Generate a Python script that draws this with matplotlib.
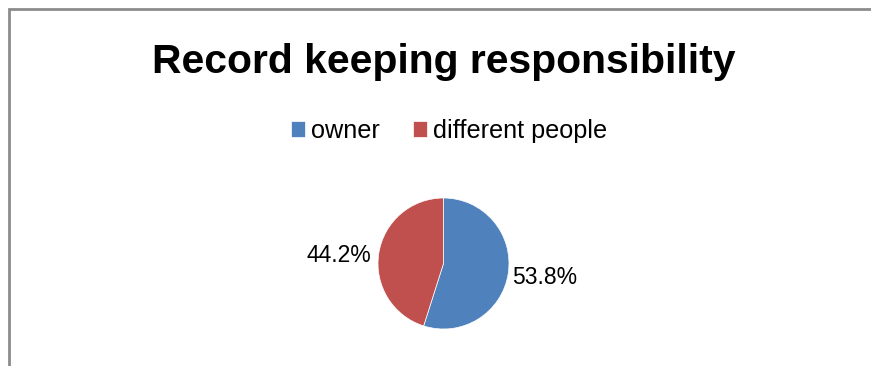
import numpy as np
import matplotlib
matplotlib.use("Agg")
import matplotlib.pyplot as plt

# chart data
categories = ["owner", "different people"]
shares = [53.8, 44.2]
colors = ["#4F81BD", "#C0504D"]
title = "Record keeping responsibility"

plt.rcParams['font.family'] = ['Liberation Sans', 'DejaVu Sans']

W, H = 871, 366
fig = plt.figure(figsize=(W / 100, H / 100), dpi=100)
renderer = fig.canvas.get_renderer()


def fit_width(txt, target_px):
    # scale the font so the text is as wide as in the reference
    w = txt.get_window_extent(renderer).width
    txt.set_fontsize(txt.get_fontsize() * target_px / w)


# chart frame (cropped on right and bottom)
frame = plt.Rectangle((8.5 / W, -0.1), 1.0, (H - 8.5) / H + 0.1,
                      transform=fig.transFigure, fill=False,
                      edgecolor="#8c8c8c", linewidth=2)
fig.patches.append(frame)

t = fig.text(443.5 / W, 1 - 73 / H, title, ha="center", va="baseline",
             fontsize=30, fontweight="bold")
fit_width(t, 583)

# pie axes: centre (443.5, 263.5), radius 65.5 px
r = 65.5
ax = fig.add_axes([(443.5 - r) / W, (H - 263.5 - r) / H, 2 * r / W, 2 * r / H])
wedges, _ = ax.pie(shares, colors=colors, startangle=90, counterclock=False,
                   wedgeprops=dict(edgecolor="white", linewidth=0.5))
ax.set_xlim(-1, 1)
ax.set_ylim(-1, 1)
ax.set_aspect("equal")

for w, v in zip(wedges, shares):
    mid = np.deg2rad((w.theta1 + w.theta2) / 2)
    x, y = np.cos(mid), np.sin(mid)
    ha = "left" if x > 0 else "right"
    d = 1.06 if x > 0 else 1.12
    lab = ax.text(d * x, d * y - 0.05, f"{v:.1f}%", ha=ha, va="center", fontsize=15)
    fit_width(lab, 65)

probe = fig.text(0, 0, categories[1], fontsize=15)
fit_width(probe, 174)
leg_size = probe.get_fontsize()
probe.remove()

leg = fig.legend(wedges, categories, loc="center", bbox_to_anchor=(449 / W, 1 - 131 / H),
                 ncol=2, frameon=False, fontsize=leg_size, handlelength=0.55, handleheight=0.55,
                 handletextpad=0.25, columnspacing=1.3)

fig.savefig("out.png", dpi=100)
